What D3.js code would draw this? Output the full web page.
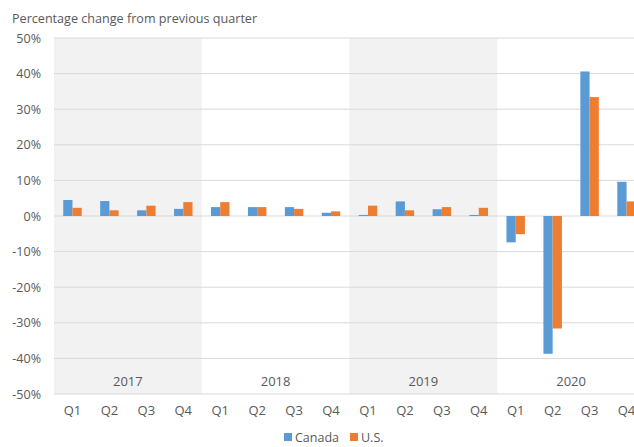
<!DOCTYPE html>
<html><head><meta charset="utf-8">
<script src="https://cdn.jsdelivr.net/npm/d3@7"></script>
<style>body{margin:0;background:#fff;overflow:hidden}svg{display:block}text{font-family:"Open Sans",sans-serif;fill:#595959}</style>
</head><body><svg id="c" width="634" height="447"></svg>
<script>
const years = ["2017","2018","2019","2020"];
const quarters = ["Q1","Q2","Q3","Q4"];
const canada = [4.5,4.2,1.6,2.0, 2.5,2.5,2.5,0.9, 0.3,4.1,1.9,0.3, -7.4,-38.7,40.6,9.6];
const us     = [2.3,1.6,2.9,3.9, 3.9,2.5,2.0,1.3, 2.9,1.6,2.5,2.3, -5.1,-31.6,33.4,4.1];
const yTicks = [50,40,30,20,10,0,-10,-20,-30,-40,-50];
const seriesNames = ["Canada","U.S."];
const colors = ["#5b9bd5","#ed7d31"];

const svg = d3.select("#c");
const keys = [];
years.forEach(y=>quarters.forEach(q=>keys.push(y+"-"+q)));
const x = d3.scaleBand().domain(keys).range([54,645]).paddingInner(0.5).paddingOuter(0.25);
const xs = d3.scaleBand().domain(keys).range([54,645]);
const sub = d3.scaleBand().domain(seriesNames).range([0,x.bandwidth()]);
const y = d3.scaleLinear().domain([-50,50]).range([394,38]);

// year bands
years.forEach((yr,i)=>{
  const x0 = xs(yr+"-Q1"), x1 = xs(yr+"-Q4")+xs.bandwidth();
  if(i%2===0) svg.append("rect").attr("x",x0).attr("y",y(50)).attr("width",x1-x0).attr("height",y(-50)-y(50)).attr("fill","#f2f2f2");
  svg.append("text").attr("x",(x0+x1)/2).attr("y",386).attr("text-anchor","middle").attr("font-size",13).text(yr);
});
// gridlines
svg.append("g").selectAll("line").data(yTicks).join("line")
  .attr("x1",54).attr("x2",645).attr("y1",d=>y(d)).attr("y2",d=>y(d))
  .attr("stroke","#d9d9d9").attr("stroke-width",1);
// y labels
svg.append("g").selectAll("text").data(yTicks).join("text")
  .attr("x",41).attr("y",d=>y(d)+4.5).attr("text-anchor","end").attr("font-size",12.5)
  .text(d=>d+"%");
// bars
const all = [canada,us];
all.forEach((vals,si)=>{
  svg.append("g").selectAll("rect").data(vals).join("rect")
    .attr("x",(d,i)=>x(keys[i])+sub(seriesNames[si]))
    .attr("width",sub.bandwidth())
    .attr("y",d=>y(Math.max(0,d)))
    .attr("height",d=>Math.abs(y(d)-y(0)))
    .attr("fill",colors[si]);
});
// quarter labels
svg.append("g").selectAll("text").data(keys).join("text")
  .attr("x",d=>xs(d)+xs.bandwidth()/2).attr("y",415).attr("text-anchor","middle").attr("font-size",13)
  .text(d=>d.split("-")[1]);
// title
svg.append("text").attr("x",12).attr("y",23).attr("font-size",12.6).text("Percentage change from previous quarter");
// legend
const lg = svg.append("g");
const lx = [284,350];
seriesNames.forEach((n,i)=>{
  lg.append("rect").attr("x",lx[i]).attr("y",433).attr("width",8).attr("height",8).attr("fill",colors[i]);
  lg.append("text").attr("x",lx[i]+11).attr("y",442).attr("font-size",12.5).text(n);
});
</script></body></html>
